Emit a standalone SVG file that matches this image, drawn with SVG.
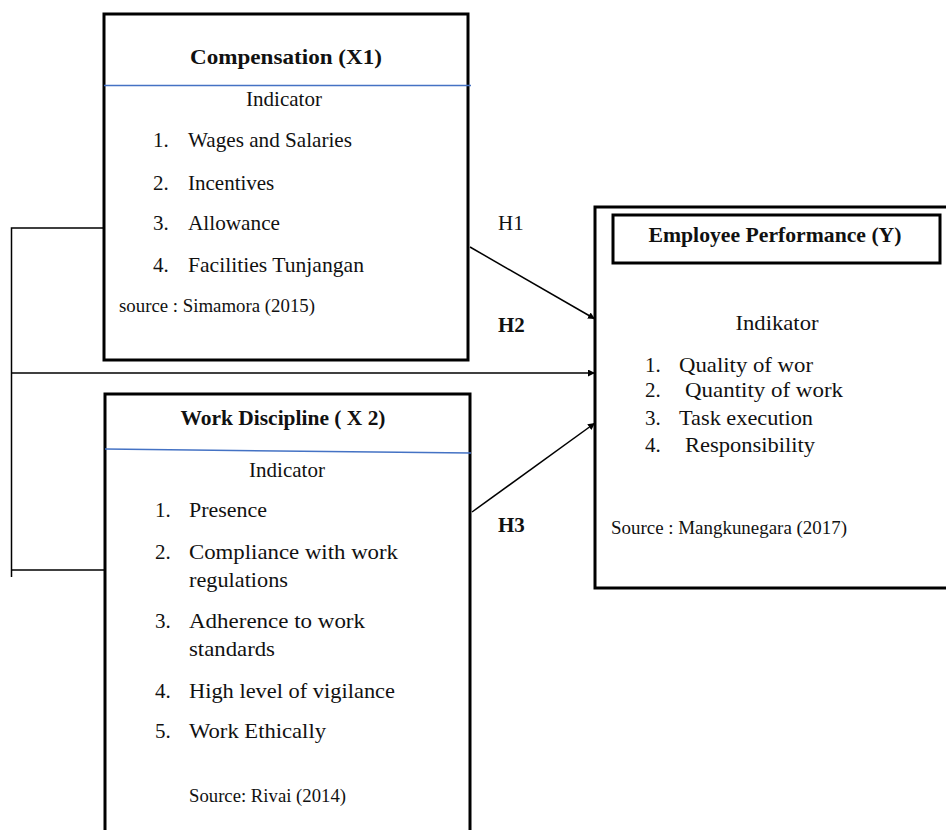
<svg xmlns="http://www.w3.org/2000/svg" width="946" height="830" viewBox="0 0 946 830">
<style>
text{font-family:"Liberation Serif","Times New Roman",serif;fill:#111;}
.t{font-size:21px;}
.b{font-size:21px;font-weight:bold;}
.s{font-size:18.5px;}
.box{fill:none;stroke:#000;stroke-width:3;}
.blue{fill:none;stroke:#4472c4;stroke-width:1.5;}
.c{fill:none;stroke:#000;stroke-width:1.5;}
</style>
<defs>
<marker id="ah" viewBox="0 0 10 10" refX="10" refY="5" markerWidth="7" markerHeight="7" markerUnits="userSpaceOnUse" orient="auto"><path d="M0,0 L10,5 L0,10 z" fill="#000"/></marker>
</defs>
<rect width="946" height="830" fill="#fff"/>
<g id="x1">
<rect class="box" x="104" y="14" width="364" height="346"/>
<line class="blue" x1="104" y1="85.5" x2="471" y2="85.5"/>
<text class="b" x="286" y="64" text-anchor="middle" textLength="192" lengthAdjust="spacingAndGlyphs">Compensation (X1)</text>
<text class="t" x="284" y="106" text-anchor="middle">Indicator</text>
<text class="t" x="153" y="147">1.</text><text class="t" x="188" y="147" textLength="164" lengthAdjust="spacingAndGlyphs">Wages and Salaries</text>
<text class="t" x="153" y="190">2.</text><text class="t" x="188" y="190">Incentives</text>
<text class="t" x="153" y="230">3.</text><text class="t" x="188" y="230" textLength="92" lengthAdjust="spacingAndGlyphs">Allowance</text>
<text class="t" x="153" y="272">4.</text><text class="t" x="188" y="272" textLength="176" lengthAdjust="spacingAndGlyphs">Facilities Tunjangan</text>
<text class="s" x="119" y="312" textLength="196" lengthAdjust="spacingAndGlyphs">source  : Simamora (2015)</text>
</g>
<g id="x2">
<path class="box" d="M105,840 V394 H470 V840"/>
<line class="blue" x1="105" y1="449" x2="471" y2="453"/>
<text class="b" x="283" y="425" text-anchor="middle" textLength="205" lengthAdjust="spacingAndGlyphs">Work Discipline ( X 2)</text>
<text class="t" x="287" y="477" text-anchor="middle">Indicator</text>
<text class="t" x="155" y="517">1.</text><text class="t" x="189" y="517" textLength="78" lengthAdjust="spacingAndGlyphs">Presence</text>
<text class="t" x="155" y="559">2.</text><text class="t" x="189" y="559" textLength="209" lengthAdjust="spacingAndGlyphs">Compliance  with work</text>
<text class="t" x="189" y="587" textLength="99" lengthAdjust="spacingAndGlyphs">regulations</text>
<text class="t" x="155" y="628">3.</text><text class="t" x="189" y="628" textLength="176" lengthAdjust="spacingAndGlyphs">Adherence  to work</text>
<text class="t" x="189" y="656" textLength="86" lengthAdjust="spacingAndGlyphs">standards</text>
<text class="t" x="155" y="698">4.</text><text class="t" x="189" y="698" textLength="206" lengthAdjust="spacingAndGlyphs">High level of vigilance</text>
<text class="t" x="155" y="738">5.</text><text class="t" x="189" y="738" textLength="137" lengthAdjust="spacingAndGlyphs">Work Ethically</text>
<text class="s" x="189" y="802" textLength="157" lengthAdjust="spacingAndGlyphs">Source: Rivai (2014)</text>
</g>
<g id="y">
<rect class="box" x="595" y="207" width="360" height="381"/>
<rect class="box" x="613" y="215" width="327" height="48"/>
<text class="b" x="775" y="242" text-anchor="middle" textLength="253" lengthAdjust="spacingAndGlyphs">Employee Performance (Y)</text>
<text class="t" x="777" y="330" text-anchor="middle" textLength="83" lengthAdjust="spacingAndGlyphs">Indikator</text>
<text class="t" x="645" y="372">1.</text><text class="t" x="679" y="372" textLength="134" lengthAdjust="spacingAndGlyphs">Quality of wor</text>
<text class="t" x="645" y="397">2.</text><text class="t" x="685" y="397" textLength="158" lengthAdjust="spacingAndGlyphs">Quantity of work</text>
<text class="t" x="645" y="425">3.</text><text class="t" x="679" y="425" textLength="134" lengthAdjust="spacingAndGlyphs">Task execution</text>
<text class="t" x="645" y="452">4.</text><text class="t" x="685" y="452" textLength="130" lengthAdjust="spacingAndGlyphs">Responsibility</text>
<text class="s" x="611" y="534" textLength="236" lengthAdjust="spacingAndGlyphs">Source : Mangkunegara (2017)</text>
</g>
<g id="connectors">
<path class="c" d="M104,228 H11.5 V577"/>
<path class="c" d="M11.5,570 H105"/>
<line class="c" x1="11.5" y1="373" x2="595" y2="373" marker-end="url(#ah)"/>
<line class="c" x1="470" y1="247" x2="595" y2="319" marker-end="url(#ah)"/>
<line class="c" x1="472" y1="512" x2="595" y2="423" marker-end="url(#ah)"/>
<text class="t" x="498" y="230">H1</text>
<text class="b" x="498" y="332">H2</text>
<text class="b" x="498" y="532">H3</text>
</g>
</svg>
